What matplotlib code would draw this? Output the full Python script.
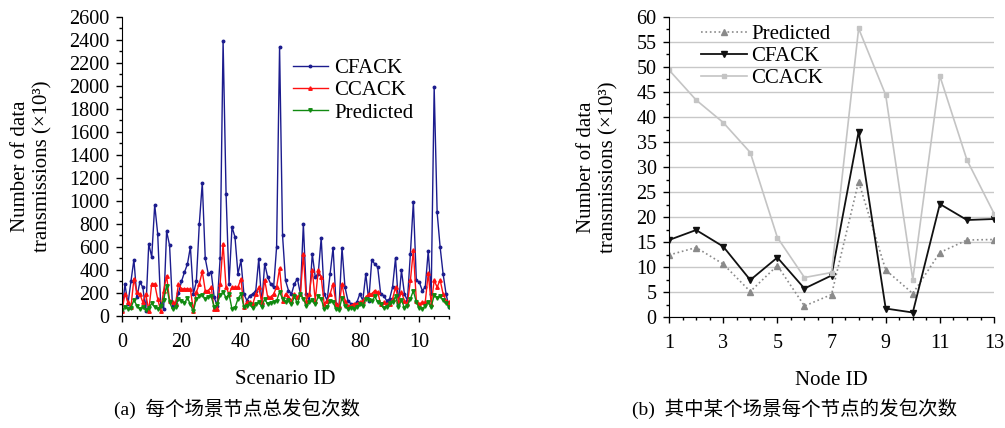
import numpy as np
import matplotlib
matplotlib.use("Agg")
import matplotlib.pyplot as plt
from matplotlib.ticker import MultipleLocator, FixedLocator

plt.rcParams['font.family'] = ['Liberation Serif', 'Noto Sans CJK SC', 'DejaVu Sans']

# ---- (a) totals per scenario (x10^3) ----
scenario = list(range(111))
cfack_a = [47, 274, 105, 300, 489, 163, 294, 250, 47, 629,
           512, 967, 716, 105, 61, 737, 614, 76, 105, 200,
           300, 380, 450, 600, 192, 300, 800, 1159, 500, 367,
           381, 163, 90, 500, 2390, 1065, 279, 774, 687, 367,
           483, 192, 134, 178, 192, 221, 498, 105, 454, 338,
           279, 250, 600, 2340, 700, 309, 221, 192, 280, 323,
           192, 798, 192, 134, 541, 338, 367, 678, 192, 134,
           367, 594, 105, 76, 594, 250, 134, 105, 99, 119,
           192, 134, 367, 134, 483, 454, 425, 192, 178, 134,
           148, 250, 504, 105, 396, 192, 134, 541, 993, 309,
           294, 221, 250, 565, 192, 1991, 900, 600, 367, 192,
           76]
ccack_a = [47, 192, 119, 76, 323, 207, 192, 119, 192, 47,
           279, 279, 148, 47, 221, 349, 134, 119, 105, 279,
           236, 236, 236, 233, 47, 207, 279, 387, 221, 221,
           250, 61, 61, 279, 629, 250, 192, 250, 250, 250,
           323, 76, 119, 119, 105, 192, 250, 119, 314, 163,
           163, 192, 250, 416, 134, 192, 163, 134, 192, 163,
           192, 541, 134, 192, 402, 134, 396, 338, 105, 134,
           192, 279, 105, 90, 279, 134, 90, 90, 105, 105,
           120, 134, 163, 192, 192, 221, 207, 105, 119, 105,
           105, 148, 250, 134, 207, 134, 105, 309, 570, 134,
           105, 119, 119, 373, 105, 309, 250, 314, 192, 134,
           119]
pred_a = [50, 80, 60, 70, 140, 90, 60, 80, 50, 70,
          110, 80, 60, 90, 140, 265, 120, 60, 80, 150,
          130, 110, 160, 100, 40, 150, 170, 180, 150, 165,
          170, 80, 100, 180, 210, 160, 190, 60, 70, 150,
          190, 80, 90, 100, 70, 100, 120, 80, 150, 100,
          110, 120, 130, 210, 150, 120, 140, 100, 170, 110,
          190, 150, 90, 120, 140, 100, 170, 150, 60, 80,
          130, 120, 60, 50, 160, 90, 60, 70, 60, 80,
          100, 90, 150, 140, 130, 170, 120, 100, 70, 80,
          110, 120, 170, 80, 140, 70, 90, 150, 220, 120,
          70, 60, 90, 120, 80, 180, 160, 170, 140, 110,
          80]
xticks_a = [0, 20, 40, 60, 80, 100]
xticklabels_a = ['0', '20', '40', '60', '80', '10']

# ---- (b) one scenario, per node (x10^3) ----
node = list(range(1, 14))
pred_b = [12.4, 13.9, 10.6, 5.1, 10.3, 2.2, 4.5, 27.1, 9.4, 4.7, 12.9, 15.4, 15.5]
cfack_b = [15.4, 17.4, 14.1, 7.4, 11.9, 5.7, 8.3, 37.1, 1.7, 0.9, 22.6, 19.4, 19.6]
ccack_b = [49.4, 43.4, 38.9, 32.9, 15.9, 7.9, 8.9, 57.7, 44.4, 7.5, 48.2, 31.4, 20.7]
xticks_b = [1, 3, 5, 7, 9, 11, 13]

ylabel = 'Number of data\ntransmissions (×10³)'

fig = plt.figure(figsize=(10.05, 4.28), dpi=100)

# ----- left panel -----
ax1 = fig.add_axes([0.1214, 0.2617, 0.3254, 0.6986])
ax1.plot(scenario, cfack_a, color='#1c1c8e', lw=1.0, marker='o', ms=1.8, label='CFACK')
ax1.plot(scenario, ccack_a, color='#ff1010', lw=1.0, marker='^', ms=2.5, label='CCACK')
ax1.plot(scenario, pred_a, color='#118a11', lw=1.0, marker='v', ms=2.5, label='Predicted')
ax1.set_xlim(0, 110)
ax1.set_ylim(0, 2600)
ax1.yaxis.set_major_locator(MultipleLocator(200))
ax1.yaxis.set_minor_locator(MultipleLocator(100))
ax1.xaxis.set_major_locator(FixedLocator(xticks_a))
ax1.set_xticklabels(xticklabels_a)
ax1.xaxis.set_minor_locator(MultipleLocator(5))
ax1.set_xlabel('Scenario ID', fontsize=15, labelpad=13)
ax1.set_ylabel(ylabel, fontsize=15, linespacing=1.2)
ax1.yaxis.set_label_coords(-0.214, 0.5)
ax1.legend(loc='upper left', bbox_to_anchor=(0.49, 0.895), frameon=False, fontsize=15,
           borderpad=0, labelspacing=0.12, handlelength=1.7, handletextpad=0.3)

# ----- right panel -----
ax2 = fig.add_axes([0.6657, 0.2593, 0.3234, 0.701])
ax2.grid(axis='y', color='#c8c8c8', lw=1.0)
ax2.set_axisbelow(True)
ax2.plot(node, pred_b, color='#8a8a8a', lw=1.2, ls=':', marker='^', ms=4.5, label='Predicted')
ax2.plot(node, cfack_b, color='#111111', lw=1.3, marker='v', ms=4.5, label='CFACK')
ax2.plot(node, ccack_b, color='#c4c4c4', lw=1.2, marker='s', ms=2.5, label='CCACK')
ax2.set_xlim(1, 13)
ax2.set_ylim(0, 60)
ax2.xaxis.set_major_locator(FixedLocator(xticks_b))
ax2.xaxis.set_minor_locator(MultipleLocator(0.5))
ax2.yaxis.set_major_locator(MultipleLocator(5))
ax2.yaxis.set_minor_locator(MultipleLocator(2.5))
ax2.set_xlabel('Node ID', fontsize=15, labelpad=13)
ax2.set_ylabel(ylabel, fontsize=15, linespacing=1.2)
ax2.yaxis.set_label_coords(-0.157, 0.5)
ax2.legend(loc='upper left', bbox_to_anchor=(0.067, 1.01), frameon=False, fontsize=15,
           borderpad=0, labelspacing=0.12, handlelength=2.2, handletextpad=0.2)

for ax in (ax1, ax2):
    ax.spines['top'].set_visible(False)
    ax.spines['right'].set_visible(False)
    ax.tick_params(which='major', direction='out', length=4, width=1, labelsize=14.5, pad=5)
    ax.tick_params(which='minor', direction='out', length=2.5, width=1)
    ax.tick_params(axis='x', which='major', pad=8)

fig.text(0.2363, 1 - 409 / 428, '(a)  每个场景节点总发包次数', fontsize=14, ha='center', va='center')
fig.text(0.7910, 1 - 409 / 428, '(b)  其中某个场景每个节点的发包次数', fontsize=14, ha='center', va='center')

fig.savefig('out.png', dpi=100)
